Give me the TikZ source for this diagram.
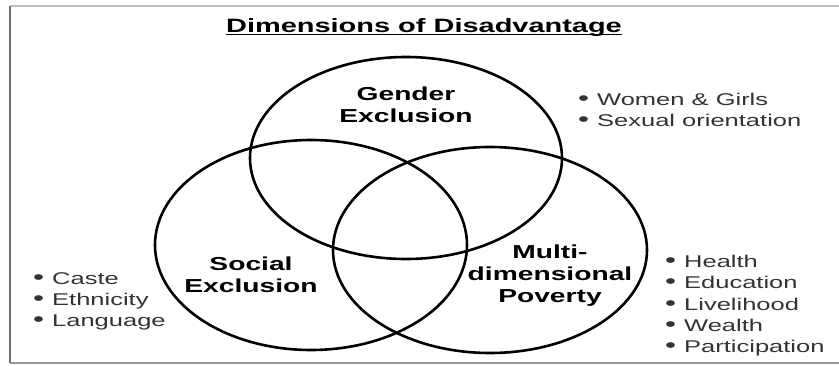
\documentclass[tikz,border=0pt]{standalone}
\usepackage{fontspec}
\setmainfont{Liberation Sans}[FakeStretch=1.5]
\usetikzlibrary{positioning,calc,shapes.geometric}

% bullet with a fixed gap before the item text
\newcommand{\itm}[1]{\makebox[19pt][l]{\fontsize{21}{0}\selectfont\textbullet}#1}

\begin{document}
\begin{tikzpicture}[x=1pt,y=-1pt,
  ring/.style={draw,ellipse,line width=2.6pt,inner sep=0pt,minimum width=312pt},
  head/.style={font=\bfseries\fontsize{18.8}{22}\selectfont,align=center,inner sep=0pt},
  items/.style={font=\fontsize{17}{21.3}\selectfont,text=black!80,align=left,anchor=north west,inner sep=0pt},
  frame_line/.style={draw=black!#1}
  ]
  \useasboundingbox (0,0) rectangle (839,365);

  % frame round the figure (no right edge)
  \coordinate (tl) at (10,6);
  \coordinate (tr) at (839,6);
  \coordinate (bl) at (10,363);
  \coordinate (br) at (839,363);
  \draw[frame_line=25,line width=1.2pt] (tl) -- (tr);
  \draw[frame_line=40,line width=1.4pt] (bl) -- (br);
  \draw[frame_line=55,line width=2pt] (tl) -- (bl);

  % title
  \node[font=\bfseries\fontsize{19.3}{22}\selectfont,inner sep=0pt,anchor=base] (title) at (424,32) {Dimensions of Disadvantage};
  \draw[line width=1.6pt] ($(title.base west)+(0,2.6)$) -- ($(title.base east)+(0,2.6)$);

  % the three sets
  \node[ring,minimum height=202pt] (gender)  at (406,158) {};
  \node[ring,minimum height=210pt] (social)  at (311,245) {};
  \node[ring,minimum height=206pt,minimum width=314pt] (poverty) at (490,250) {};

  \node[head] (genderlbl)  at (406,105) {Gender\\Exclusion};
  \node[head] (sociallbl)  at (251,275) {Social\\Exclusion};
  \node[head] (povertylbl) at (550,276) {Multi-\\dimensional\\Poverty};

  % what each set covers
  \node[items] (genderlist) at (578,93) {\itm{Women \& Girls}\\\itm{Sexual orientation}};
  \node[items] (sociallist) at (33,272) {\itm{Caste}\\\itm{Ethnicity}\\\itm{Language}};
  \node[items] (povertylist) at (665,255) {\itm{Health}\\\itm{Education}\\\itm{Livelihood}\\\itm{Wealth}\\\itm{Participation}};
\end{tikzpicture}
\end{document}
